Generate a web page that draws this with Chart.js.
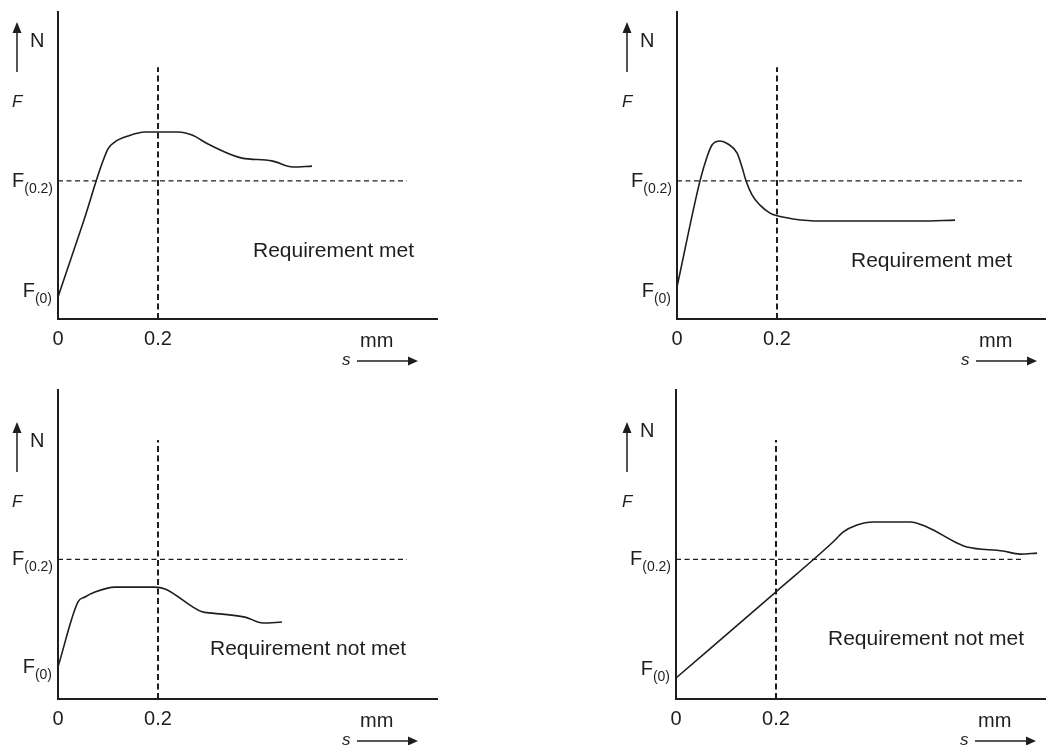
<!DOCTYPE html>
<html>
<head>
<meta charset="utf-8">
<script src="https://cdn.jsdelivr.net/npm/chart.js@4"></script>
<style>
  html, body { margin: 0; padding: 0; background: #fff; }
  #wrap { position: relative; width: 1046px; height: 745px; overflow: hidden; }
  #wrap canvas { position: absolute; }
</style>
</head>
<body>
<div id="wrap">
  <canvas id="c1" width="523" height="372" style="left:0;top:0"></canvas>
  <canvas id="c2" width="523" height="372" style="left:523px;top:0"></canvas>
  <canvas id="c3" width="523" height="373" style="left:0;top:372px"></canvas>
  <canvas id="c4" width="523" height="373" style="left:523px;top:372px"></canvas>
</div>
<script>
// force F (0..100, arbitrary units) over travel s (mm)

const xTicks = [0, 0.2];
const notes = ['Requirement met', 'Requirement met', 'Requirement not met', 'Requirement not met'];

const s1 = [0, 0.05, 0.10, 0.114, 0.14, 0.174, 0.24, 0.268, 0.30, 0.348, 0.368, 0.428, 0.47, 0.508];
const F1 = [7.2, 31.3, 55.4, 57.7, 59.6, 60.9, 60.9, 59.9, 57.0, 53.4, 52.4, 51.5, 49.5, 49.8];

const s2 = [0, 0.046, 0.06, 0.07, 0.086, 0.102, 0.12, 0.13, 0.138, 0.15, 0.166, 0.186, 0.2, 0.232, 0.286, 0.386, 0.486, 0.556];
const F2 = [10.4, 45.0, 52.8, 56.7, 58.0, 57.0, 54.1, 49.5, 45.0, 40.4, 37.1, 34.5, 33.6, 32.6, 31.9, 31.9, 31.9, 32.2];

const s3 = [0, 0.04, 0.054, 0.074, 0.114, 0.194, 0.214, 0.288, 0.308, 0.374, 0.41, 0.448];
const F3 = [10.4, 31.4, 33.0, 34.6, 36.2, 36.2, 35.6, 28.2, 27.8, 26.5, 24.6, 24.9];

const s4 = [0, 0.2, 0.314, 0.334, 0.362, 0.394, 0.468, 0.502, 0.562, 0.582, 0.654, 0.688, 0.722];
const F4 = [6.8, 34.7, 50.8, 54.0, 56.3, 57.3, 57.3, 55.7, 50.5, 49.2, 47.9, 46.9, 47.2];

const F02 = [45.0, 45.0, 45.2, 45.2];      // F(0.2) level
const vLineTop = [82, 82, 83.8, 83.8];      // where the s = 0.2 guide stops
const hLineEnd = [0.698, 0.696, 0.698, 0.694];
const xMax = [0.758, 0.738, 0.758, 0.74];

const ink = '#1e1e1e';
const FONT = '"Liberation Sans", Arial, sans-serif';

// label placement tweaks per panel (pixels)
const layoutOf = [
  { pad: { left: 58, top: 12, right: 86 }, axisH: 53, dx: -41, dy: 0, nDy: 0, f0Dy: 0, noteX: 0.39, noteY: 20.2 },
  { pad: { left: 154, top: 12, right: 0 }, axisH: 53, dx: -50, dy: 0, nDy: 0, f0Dy: 10, noteX: 0.348, noteY: 16.9 },
  { pad: { left: 58, top: 18, right: 86 }, axisH: 46, dx: -41, dy: 22, nDy: 0, f0Dy: 6, noteX: 0.304, noteY: 14.2 },
  { pad: { left: 153, top: 18, right: 0 }, axisH: 46, dx: -49, dy: 22, nDy: -10, f0Dy: -3, noteX: 0.304, noteY: 17.5 }
];

function subLabel(ctx, sub, right, base) {
  ctx.font = '14px ' + FONT;
  const ws = ctx.measureText(sub).width;
  ctx.font = '20px ' + FONT;
  const wf = ctx.measureText('F').width;
  ctx.fillText('F', right - ws - wf, base);
  ctx.font = '14px ' + FONT;
  ctx.fillText(sub, right - ws, base + 6);
}

const sketchText = {
  id: 'sketchText',
  afterDraw(chart, args, o) {
    const ctx = chart.ctx, a = chart.chartArea;
    const xs = chart.scales.x, ys = chart.scales.y;
    ctx.save();
    ctx.fillStyle = ink;
    ctx.strokeStyle = ink;
    ctx.textAlign = 'left';
    ctx.textBaseline = 'alphabetic';

    // F / N with arrow up
    const ax = a.left + o.dx, t = a.top + o.dy;
    ctx.lineWidth = 1.5;
    ctx.beginPath(); ctx.moveTo(ax, t + 60); ctx.lineTo(ax, t + 18); ctx.stroke();
    ctx.beginPath(); ctx.moveTo(ax, t + 10); ctx.lineTo(ax - 4.5, t + 21); ctx.lineTo(ax + 4.5, t + 21); ctx.closePath(); ctx.fill();
    ctx.font = '20px ' + FONT;
    ctx.fillText('N', ax + 13, t + 35 + o.nDy);
    ctx.font = 'italic 17px ' + FONT;
    ctx.fillText('F', ax - 5, t + 95);

    subLabel(ctx, '(0.2)', a.left - 5, ys.getPixelForValue(o.f02) + 6);
    subLabel(ctx, '(0)', a.left - 6, ys.getPixelForValue(o.f0) + o.f0Dy);

    // mm and s arrow
    const b = a.bottom;
    ctx.font = '20px ' + FONT;
    ctx.fillText('mm', a.left + 302, b + 28);
    ctx.font = 'italic 17px ' + FONT;
    ctx.fillText('s', a.left + 284, b + 46);
    ctx.lineWidth = 1.5;
    ctx.beginPath(); ctx.moveTo(a.left + 299, b + 42); ctx.lineTo(a.left + 352, b + 42); ctx.stroke();
    ctx.beginPath(); ctx.moveTo(a.left + 360, b + 42); ctx.lineTo(a.left + 350, b + 37.5); ctx.lineTo(a.left + 350, b + 46.5); ctx.closePath(); ctx.fill();

    ctx.font = '21px ' + FONT;
    ctx.fillText(o.note, xs.getPixelForValue(o.noteX), ys.getPixelForValue(o.noteY));
    ctx.restore();
  }
};

function pts(xs, ys) {
  return xs.map((x, i) => ({ x: x, y: ys[i] }));
}

function makePanel(id, i, s, F) {
  const L = layoutOf[i];
  new Chart(document.getElementById(id), {
    type: 'scatter',
    data: {
      datasets: [
        {
          data: pts(s, F),
          showLine: true,
          borderColor: ink,
          borderWidth: 1.6,
          pointRadius: 0,
          tension: 0.4,
          cubicInterpolationMode: 'monotone',
          clip: false
        },
        {
          data: [{ x: xTicks[1], y: 0 }, { x: xTicks[1], y: vLineTop[i] }],
          showLine: true,
          borderColor: ink,
          borderWidth: 2,
          borderDash: [6, 3.5],
          pointRadius: 0,
          clip: false
        },
        {
          data: [{ x: 0, y: F02[i] }, { x: hLineEnd[i], y: F02[i] }],
          showLine: true,
          borderColor: ink,
          borderWidth: 1.2,
          borderDash: [5, 3.5],
          pointRadius: 0,
          clip: false
        }
      ]
    },
    options: {
      responsive: false,
      animation: false,
      events: [],
      layout: { padding: Object.assign({ bottom: 0 }, L.pad) },
      plugins: {
        legend: { display: false },
        tooltip: { enabled: false },
        sketchText: {
          dx: L.dx, dy: L.dy, nDy: L.nDy, f0Dy: L.f0Dy,
          f02: F02[i], f0: F[0],
          note: notes[i], noteX: L.noteX, noteY: L.noteY
        }
      },
      scales: {
        x: {
          type: 'linear',
          min: 0,
          max: xMax[i],
          grid: { display: false, drawTicks: false },
          border: { display: true, color: ink, width: 2 },
          afterBuildTicks: sc => { sc.ticks = xTicks.map(v => ({ value: v })); },
          afterFit: sc => { sc.height = L.axisH; },
          ticks: {
            padding: 8,
            maxRotation: 0,
            autoSkip: false,
            color: ink,
            font: { family: FONT, size: 20 },
            callback: v => String(v)
          }
        },
        y: {
          min: 0,
          max: 100,
          grid: { display: false, drawTicks: false },
          border: { display: true, color: ink, width: 2 },
          ticks: { display: false },
          afterFit: sc => { sc.width = 0; }
        }
      }
    },
    plugins: [sketchText]
  });
}

makePanel('c1', 0, s1, F1);
makePanel('c2', 1, s2, F2);
makePanel('c3', 2, s3, F3);
makePanel('c4', 3, s4, F4);
</script>
</body>
</html>
